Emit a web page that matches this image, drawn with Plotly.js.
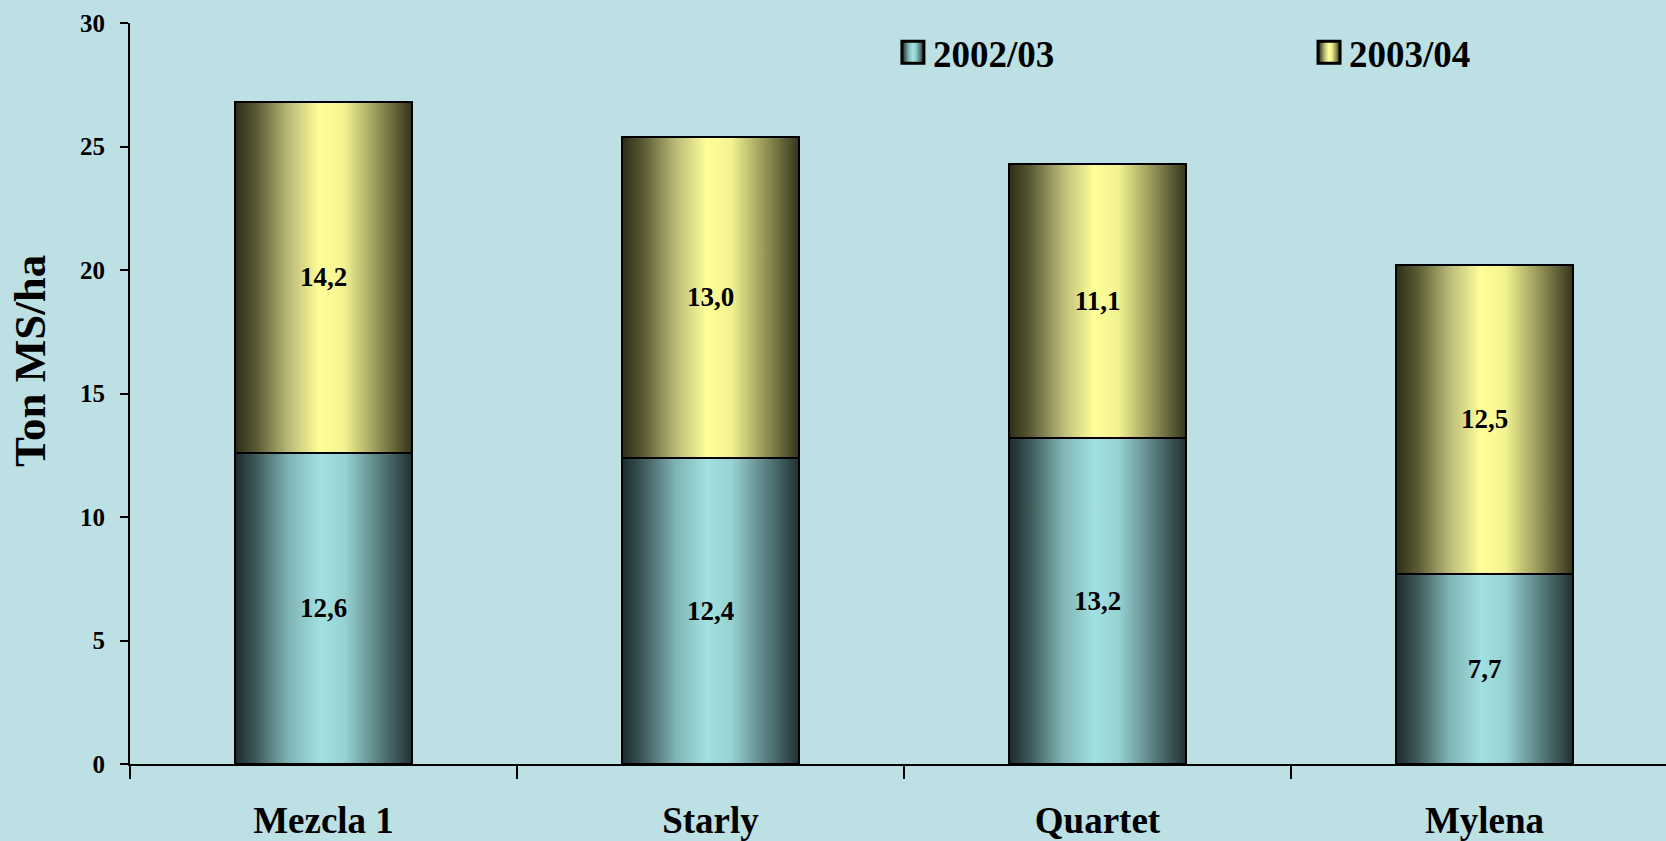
<!DOCTYPE html>
<html>
<head>
<meta charset="utf-8">
<script src="https://cdn.plot.ly/plotly-3.0.1.min.js"></script>
<style>
  html, body { margin: 0; padding: 0; background: #BCE0E3; }
  #chart { width: 1666px; height: 841px; }
</style>
</head>
<body>
<div id="chart"></div>
<script>
// ---- data ----
const categories = ['Mezcla 1', 'Starly', 'Quartet', 'Mylena'];
const seriesNames = ['2002/03', '2003/04'];
const values2002 = [12.6, 12.4, 13.2, 7.7];
const values2003 = [14.2, 13.0, 11.1, 12.5];
const yTickValues = [0, 5, 10, 15, 20, 25, 30];
const yAxisTitle = 'Ton MS/ha';

// ---- styles ----
const SERIF = '"Liberation Serif", "Times New Roman", Times, serif';
const BG = '#BCE0E3';
const baseColors = ['#A0DEDF', '#FFFF99'];
const gradients = [
  [['0%', '#1c2b2c'], ['12%', '#3f5a5b'], ['30%', '#7fb3b4'], ['48%', '#a2e0e1'], ['62%', '#98d2d3'], ['80%', '#5e8687'], ['100%', '#223233']],
  [['0%', '#2e2e18'], ['12%', '#5a5a34'], ['30%', '#b9b978'], ['48%', '#ffff99'], ['62%', '#f2f290'], ['80%', '#9a9a5c'], ['100%', '#35351c']]
];
const legendIds = ['legend', 'legend2'];
const legendX = [0.4967, 0.7676];

const seriesValues = [values2002, values2003];
const traces = seriesValues.map((vals, i) => ({
  type: 'bar',
  name: seriesNames[i],
  legend: legendIds[i],
  x: categories,
  y: vals,
  width: 0.455,
  marker: { color: baseColors[i], line: { color: '#000000', width: 2 } },
  texttemplate: '%{y:.1f}',
  textposition: 'inside',
  insidetextanchor: 'middle',
  textangle: 0,
  constraintext: 'none',
  textfont: { family: SERIF, size: 27, color: '#000000', weight: 'bold' },
  hoverinfo: 'x+y+name'
}));

function legendStyle(x) {
  return {
    orientation: 'h',
    x: x,
    xanchor: 'left',
    y: 0.96,
    yanchor: 'middle',
    bgcolor: 'rgba(0,0,0,0)',
    font: { family: SERIF, size: 37, color: '#000000', weight: 'bold' },
    itemclick: false,
    itemdoubleclick: false
  };
}

const layout = {
  width: 1666,
  height: 841,
  paper_bgcolor: BG,
  plot_bgcolor: BG,
  separators: ',.',
  barmode: 'stack',
  showlegend: true,
  margin: { l: 130, r: 0, t: 23, b: 77, pad: 0 },
  xaxis: {
    type: 'category',
    range: [-0.5, 3.469],
    showline: true,
    linecolor: '#000000',
    linewidth: 2,
    ticks: 'outside',
    tickson: 'boundaries',
    ticklen: 13,
    tickwidth: 2,
    tickcolor: '#000000',
    showgrid: false,
    zeroline: false,
    ticklabelstandoff: 23,
    tickfont: { family: SERIF, size: 37, color: '#000000', weight: 'bold' },
    automargin: false
  },
  yaxis: {
    range: [0, 30],
    tickvals: yTickValues,
    showline: true,
    linecolor: '#000000',
    linewidth: 2,
    ticks: 'outside',
    ticklen: 8,
    tickwidth: 2,
    tickcolor: '#000000',
    showgrid: false,
    zeroline: false,
    ticklabelstandoff: 10,
    tickfont: { family: SERIF, size: 25, color: '#000000', weight: 'bold' },
    automargin: false
  },
  annotations: [{
    text: yAxisTitle,
    xref: 'paper', yref: 'paper',
    x: -0.0651, y: 0.544,
    xanchor: 'center', yanchor: 'middle',
    textangle: -90,
    showarrow: false,
    font: { family: SERIF, size: 45, color: '#000000', weight: 'bold' }
  }],
  legend: legendStyle(legendX[0]),
  legend2: legendStyle(legendX[1])
};

function applyGradients(gd) {
  const svgNS = 'http://www.w3.org/2000/svg';
  const svg = gd.querySelector('svg.main-svg');
  let defs = svg.querySelector('defs');
  if (!defs) { defs = document.createElementNS(svgNS, 'defs'); svg.insertBefore(defs, svg.firstChild); }
  gradients.forEach((stops, i) => {
    const id = 'barGrad' + i;
    if (document.getElementById(id)) return;
    const lg = document.createElementNS(svgNS, 'linearGradient');
    lg.setAttribute('id', id);
    lg.setAttribute('x1', '0'); lg.setAttribute('y1', '0');
    lg.setAttribute('x2', '1'); lg.setAttribute('y2', '0');
    stops.forEach(([off, col]) => {
      const s = document.createElementNS(svgNS, 'stop');
      s.setAttribute('offset', off);
      s.setAttribute('stop-color', col);
      lg.appendChild(s);
    });
    defs.appendChild(lg);
  });
  const traceIndex = (el, fallback) => {
    const d = el.__data__;
    if (d && d[0] && d[0].trace) return d[0].trace.index;
    if (d && d[0] && d[0][0] && d[0][0].trace) return d[0][0].trace.index;
    return fallback;
  };
  gd.querySelectorAll('.barlayer .trace').forEach((tr, i) => {
    const idx = traceIndex(tr, i);
    tr.querySelectorAll('.point path').forEach(p => { p.style.fill = 'url(#barGrad' + idx + ')'; });
  });
  legendIds.forEach((lid, i) => {
    const g = gd.querySelector('g.' + lid);
    if (!g) return;
    g.querySelectorAll('.traces').forEach(tr => {
      const idx = traceIndex(tr, i);
      tr.querySelectorAll('.legendpoints path').forEach(p => {
        p.setAttribute('d', 'M11,11H-11V-11H11Z');
        p.style.fill = 'url(#barGrad' + idx + ')';
        p.style.stroke = '#000000';
        p.style.strokeWidth = '3px';
      });
    });
  });
}

Plotly.newPlot('chart', traces, layout, { displayModeBar: false }).then(applyGradients);
</script>
</body>
</html>
